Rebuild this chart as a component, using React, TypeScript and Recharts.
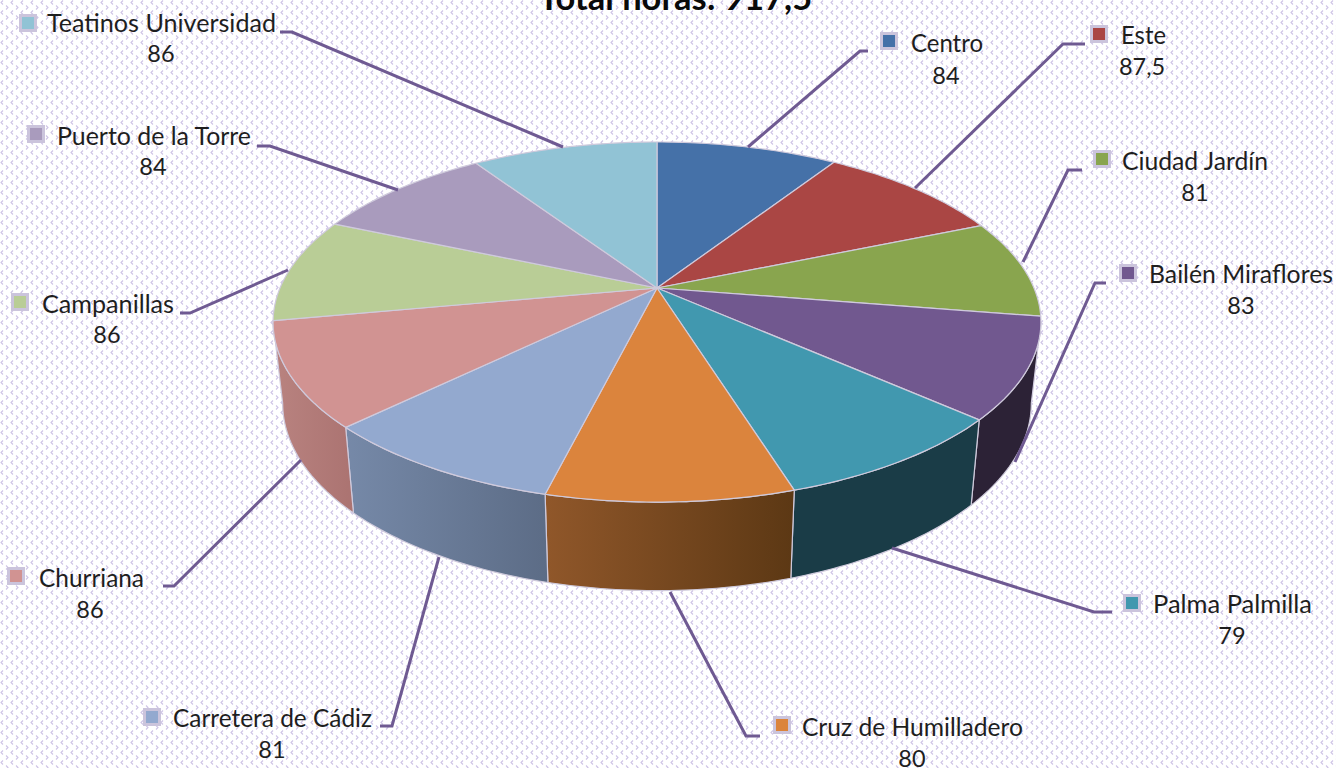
import React from "react";
import { PieChart, Pie } from "recharts";

const categories = [
  "Centro", "Este", "Ciudad Jardín", "Bailén Miraflores", "Palma Palmilla", "Cruz de Humilladero",
  "Carretera de Cádiz", "Churriana", "Campanillas", "Puerto de la Torre", "Teatinos Universidad",
];
const hours = [84, 87.5, 81, 83, 79, 80, 81, 86, 86, 84, 86];
const valueLabels = ["84", "87,5", "81", "83", "79", "80", "81", "86", "86", "84", "86"];
const topColors = ["#4571A8", "#AA4644", "#89A54E", "#71588F", "#4198AF", "#DB843D", "#93A9CF", "#D19392", "#B9CD96", "#A99BBD", "#91C3D5"];
const wallFrom = ["#33557D", "#7E3432", "#667A3A", "#2C2236", "#1A3C47", "#90572A", "#7689A8", "#B98380", "#8A9A70", "#7E738D", "#6C919F"];
const wallTo = ["#33557D", "#7E3432", "#667A3A", "#2C2236", "#1A3C47", "#5C3814", "#5C6C86", "#AB7371", "#8A9A70", "#7E738D", "#6C919F"];

// Label layout: [keyX, keyY, nameLeft, nameRight, nameY, valueCenter, valueY]
const labelBoxes = [
  [889, 41, 911, 983, 42, 946, 75],
  [1099, 34, 1121, 1166, 34, 1142, 66],
  [1102, 159, 1122, 1268, 160, 1195, 192],
  [1128, 273, 1149, 1333, 273, 1241, 305],
  [1132, 603, 1153, 1312, 603, 1232, 635],
  [782, 725, 802, 1023, 726, 912, 758],
  [152, 717, 173, 372, 717, 272, 749],
  [16, 576, 39, 144, 577, 90, 609],
  [20, 302, 42, 174, 303, 107, 334],
  [36, 134, 57, 251, 135, 153, 166],
  [28, 23, 47, 276, 22, 161, 53],
];
const leaders = [
  "748,147 860,51 868,51",
  "915,188 1063,44 1085,44",
  "1023,262 1068,170 1082,170",
  "1015,462 1095,283 1106,283",
  "892,548 1094,612 1112,612",
  "670,592 746,736 760,736",
  "439,557 392,726 380,726",
  "301,460 174,586 163,586",
  "288,270 190,313 180,313",
  "398,190 270,146 257,146",
  "563,147 292,32 280,32",
];

const FONT = "Lato, 'Open Sans', sans-serif";
const RX = 377; // horizontal radius in the pie plane
const RY = 173.6; // vertical radius in the pie plane
const K = 0.189; // perspective strength
const BOTTOM_SX = 0.975;
const BOTTOM_SY = 1.04;
const BOTTOM_SHIFT = 80;
const FRONT_MIN = 100.9;
const FRONT_MAX = 259.1;

type P = [number, number];
const project = (cx: number, cy: number, deg: number, sx = 1, sy = 1, shift = 0): P => {
  const t = (deg * Math.PI) / 180;
  const u = Math.sin(t);
  const v = -Math.cos(t);
  const d = 1 - K * v;
  return [cx + (sx * RX * u) / d, cy + shift + (sy * RY * v) / d];
};
const arc = (cx: number, cy: number, a: number, b: number, sx = 1, sy = 1, shift = 0): P[] => {
  const n = Math.max(2, Math.ceil(Math.abs(b - a)));
  const out: P[] = [];
  for (let i = 0; i <= n; i++) out.push(project(cx, cy, a + ((b - a) * i) / n, sx, sy, shift));
  return out;
};
const toPath = (pts: P[]) => "M" + pts.map((p) => `${p[0].toFixed(2)},${p[1].toFixed(2)}`).join("L") + "Z";

const Slice = (props: any) => {
  const { cx, cy, startAngle, endAngle, index } = props;
  const a = 90 - startAngle;
  const b = 90 - endAngle;
  const wa = Math.max(a, FRONT_MIN);
  const wb = Math.min(b, FRONT_MAX);
  const top = toPath([[cx, cy], ...arc(cx, cy, a, b)]);
  return (
    <g>
      {wb > wa && (
        <path
          d={toPath([...arc(cx, cy, wa, wb), ...arc(cx, cy, wb, wa, BOTTOM_SX, BOTTOM_SY, BOTTOM_SHIFT)])}
          fill={`url(#wall${index})`}
          stroke="#CFCADC"
          strokeWidth={1.2}
          strokeLinejoin="round"
        />
      )}
      <path d={top} fill={topColors[index]} stroke="#CFCADC" strokeWidth={1.2} strokeLinejoin="round" />
    </g>
  );
};

const SliceLabel = (props: any) => {
  const i = props.index;
  const [kx, ky, nl, nr, ny, vx, vy] = labelBoxes[i];
  return (
    <g>
      <polyline points={leaders[i]} fill="none" stroke="#6F5A92" strokeWidth={3} />
      <rect x={kx - 7.5} y={ky - 7.5} width={15} height={15} fill={topColors[i]} stroke="#CBC4DC" strokeWidth={3} />
      <text
        x={nl}
        y={ny}
        dominantBaseline="central"
        fontFamily={FONT}
        fontSize={24.5}
        fill="#1E1E1E"
        textLength={nr - nl}
        lengthAdjust="spacingAndGlyphs"
      >
        {categories[i]}
      </text>
      <text x={vx} y={vy} dominantBaseline="central" textAnchor="middle" fontFamily={FONT} fontSize={23.5} fill="#1E1E1E">
        {valueLabels[i]}
      </text>
    </g>
  );
};

const data = categories.map((name, i) => ({ name, value: hours[i] }));

const patternSvg =
  `<svg xmlns='http://www.w3.org/2000/svg' width='10' height='10'>` +
  `<path d='M3 0.5L1 2.5L3 4.5' fill='none' stroke='#CEC3E6' stroke-width='1.1'/>` +
  `<path d='M6 5.5L8 7.5L6 9.5' fill='none' stroke='#CEC3E6' stroke-width='1.1'/>` +
  `</svg>`;

export default function App() {
  return (
    <div
      style={{
        position: "absolute",
        left: 0,
        top: 0,
        width: 1336,
        height: 768,
        overflow: "hidden",
        backgroundColor: "#FFFFFF",
        backgroundImage: `url("data:image/svg+xml,${encodeURIComponent(patternSvg)}")`,
      }}
    >
      <PieChart width={1336} height={768} margin={{ top: 0, right: 0, bottom: 0, left: 0 }}>
        <defs>
          {categories.map((_, i) => (
            <linearGradient key={i} id={`wall${i}`} x1="0" y1="0" x2="1" y2="0">
              <stop offset="0%" stopColor={wallFrom[i]} />
              <stop offset="100%" stopColor={wallTo[i]} />
            </linearGradient>
          ))}
        </defs>
        <text x={675.5} y={10} textAnchor="middle" fontFamily={FONT} fontWeight={700} fontSize={34.5} fill="#0A0A0A">
          Total horas: 917,5
        </text>
        <Pie
          data={data}
          dataKey="value"
          nameKey="name"
          cx={657}
          cy={288}
          outerRadius={RX}
          startAngle={90}
          endAngle={-270}
          paddingAngle={0}
          isAnimationActive={false}
          shape={Slice}
          label={SliceLabel}
          labelLine={false}
        />
      </PieChart>
    </div>
  );
}
